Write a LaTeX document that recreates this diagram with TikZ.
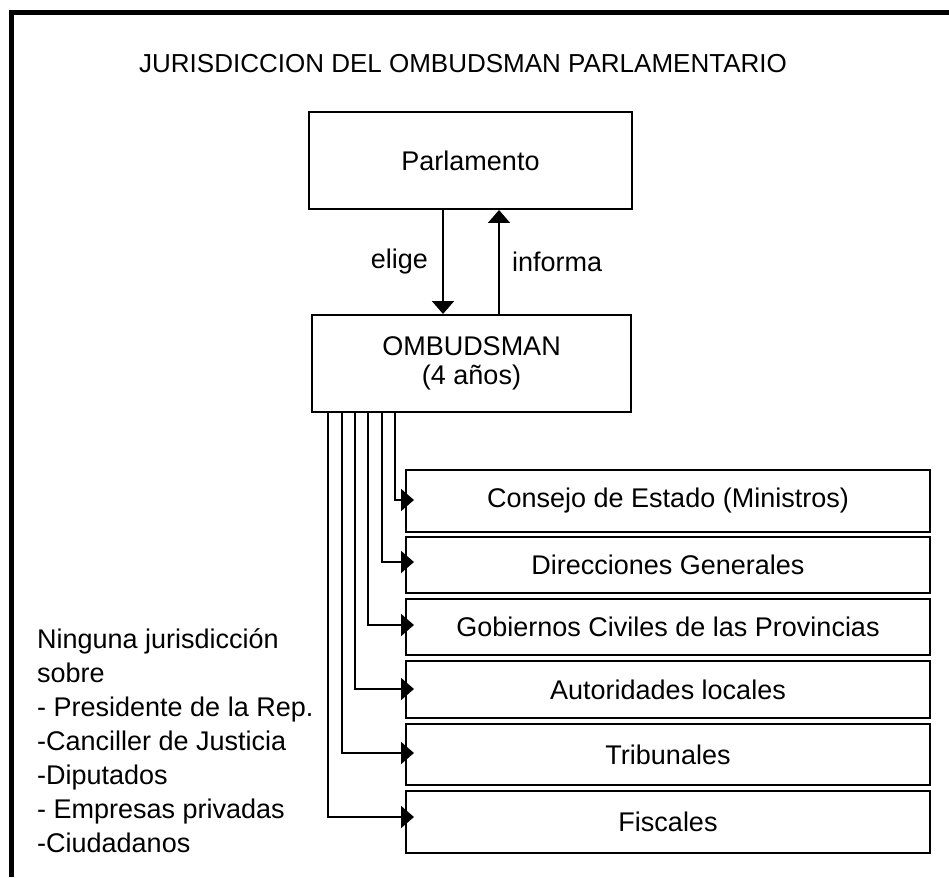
\documentclass[tikz,border=0pt]{standalone}
\usepackage{fontspec}
\setmainfont{Liberation Sans}
\usetikzlibrary{arrows.meta}
\tikzset{
  caja/.style={draw, line width=2pt, inner sep=0pt},
  flecha/.style={line width=2pt, -{Triangle[width=22pt,length=13pt]}},
  rotulo/.style={inner sep=0pt},
}

\begin{document}
\begin{tikzpicture}[x=1pt, y=-1pt, font=\fontsize{27}{28.3}\selectfont]
			%%%%% MARCO %%%%%
			\useasboundingbox (0,0) rectangle (949,877);
			\draw[line width=5pt] (11.5,877) -- (11.5,12.5) -- (949,12.5);
			
			\node[rotulo, font=\fontsize{26}{28}\selectfont] (titulo) at (463,64) {JURISDICCION DEL OMBUDSMAN PARLAMENTARIO};
			
			%%%%% PARLAMENTO Y OMBUDSMAN %%%%%
			\node[caja, minimum width=323pt, minimum height=97pt] (parlamento) at (470.5,160.5) {Parlamento};
			\node[caja, minimum width=319pt, minimum height=97pt, align=center] (ombudsman) at (471.5,363.5) {OMBUDSMAN\\(4 años)};
			
			\draw[flecha] (443,0 |- parlamento.south) -- (443,0 |- ombudsman.north)
				node[rotulo, midway, left=14pt] (elige) {elige};
			\draw[flecha] (499,0 |- ombudsman.north) -- (499,0 |- parlamento.south)
				node[rotulo, midway, right=12pt] (informa) {informa};
			
			%%%%% ORGANOS %%%%%
			\foreach \n/\y/\h/\d/\x/\t in {consejo/501/62/1/395/Consejo de Estado (Ministros),
					direcciones/565/56/3/382/Direcciones Generales,
					gobiernos/627/56/2/368/Gobiernos Civiles de las Provincias,
					autoridades/689.5/57/0.5/355/Autoridades locales,
					tribunales/754.5/61/1.5/342/Tribunales,
					fiscales/822/62/5/328/Fiscales}{
				\node[caja, minimum width=524pt, minimum height=\h pt] (\n) at (668,\y) {\t};
				\draw[flecha] (\x,0 |- ombudsman.south) |- ([xshift=9pt, yshift=\d pt]\n.west);
			}
			
			\node[rotulo, anchor=north west, align=left, font=\fontsize{27}{34}\selectfont] (excluidos) at (37,628) {Ninguna jurisdicción\\sobre\\- Presidente de la Rep.\\-Canciller de Justicia\\-Diputados\\- Empresas privadas\\-Ciudadanos};
			
			%%%%% FIN %%%%%
\end{tikzpicture}
\end{document}
